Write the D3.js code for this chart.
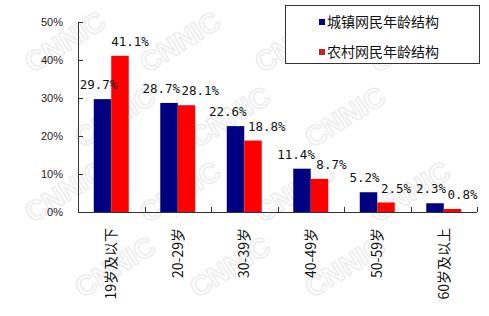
<!DOCTYPE html>
<meta charset="utf-8">
<script src="https://d3js.org/d3.v7.min.js"></script>
<html>
  <head>
    <style>
    body { margin: 0; background-color: #ffffff; }
    </style>
  </head>
  <body>
    <div id="my_dataviz"></div>
  </body>
</html>

<script>

// data
var categories = ["19岁及以下", "20-29岁", "30-39岁", "40-49岁", "50-59岁", "60岁及以上"];
var seriesNames = ["城镇网民年龄结构", "农村网民年龄结构"];
var urbanValues = [29.7, 28.7, 22.6, 11.4, 5.2, 2.3];
var ruralValues = [41.1, 28.1, 18.8, 8.7, 2.5, 0.8];
var yTicks = [0, 10, 20, 30, 40, 50];

var colors = ["#000080", "#ff0000"];
var legendColors = ["#000080", "#c82020"];

var width = 489, height = 316;
var svg = d3.select("#my_dataviz")
  .append("svg")
    .attr("width", width)
    .attr("height", height);

// very faint watermark, kept inside the picture
var wm = svg.append("g");
for (var r = 0; r < 4; r++) {
  for (var c = 0; c < 4; c++) {
    var wx = 70 + c * 115 + (r % 2) * 50, wy = 50 + r * 75;
    if (wx > 440) continue;
    wm.append("text")
      .attr("transform", "translate(" + wx + "," + wy + ") rotate(-32)")
      .attr("text-anchor", "middle")
      .style("font-family", "Liberation Sans, Arial")
      .style("font-weight", "bold")
      .style("font-size", "28px")
      .style("fill", "none")
      .style("stroke", "#ededed")
      .style("stroke-width", 1.5)
      .text("CNNIC");
  }
}

var plot = {left: 78, right: 477, top: 22, bottom: 212};

var x0 = d3.scaleBand()
  .domain(categories)
  .range([plot.left, plot.right])
  .paddingInner(0.474)
  .paddingOuter(0.237);

var x1 = d3.scaleBand()
  .domain([0, 1])
  .range([0, x0.bandwidth()]);

var y = d3.scaleLinear()
  .domain([0, 50])
  .range([plot.bottom, plot.top]);

// Y axis, ticks pointing inward
var yAxis = svg.append("g")
  .attr("transform", "translate(" + plot.left + ",0)")
  .call(d3.axisRight(y).tickValues(yTicks).tickSize(5).tickFormat(""));
yAxis.select(".domain").attr("d", "M0.5," + plot.top + "V" + plot.bottom).style("stroke", "#333");
yAxis.selectAll(".tick line").style("stroke", "#333");

svg.append("g").selectAll("text")
  .data(yTicks)
  .enter()
  .append("text")
    .attr("x", 63)
    .attr("y", function(d) { return y(d); })
    .attr("dy", "0.35em")
    .attr("text-anchor", "end")
    .style("font-family", "Liberation Sans, Arial")
    .style("font-size", "11px")
    .style("fill", "#222")
    .text(function(d) { return d + "%"; });

// X axis with inward ticks at category boundaries
var bounds = categories.map(function(d) { return x0(d) - x0.step() * x0.paddingOuter(); });
bounds.push(plot.right);
svg.append("line")
  .attr("x1", plot.left).attr("x2", plot.right)
  .attr("y1", plot.bottom + 0.5).attr("y2", plot.bottom + 0.5)
  .style("stroke", "#333");
svg.append("g").selectAll("line")
  .data(bounds.slice(1))
  .enter()
  .append("line")
    .attr("x1", function(d) { return Math.round(d) + 0.5; })
    .attr("x2", function(d) { return Math.round(d) + 0.5; })
    .attr("y1", plot.bottom)
    .attr("y2", plot.bottom - 5)
    .style("stroke", "#333");

// bars
var rows = categories.map(function(c, i) { return {cat: c, vals: [urbanValues[i], ruralValues[i]]}; });
var groups = svg.append("g").selectAll("g")
  .data(rows)
  .enter()
  .append("g")
    .attr("transform", function(d) { return "translate(" + x0(d.cat) + ",0)"; });

groups.selectAll("rect")
  .data(function(d) { return d.vals.map(function(v, s) { return {v: v, s: s}; }); })
  .enter()
  .append("rect")
    .attr("x", function(d) { return x1(d.s); })
    .attr("y", function(d) { return y(d.v); })
    .attr("width", x1.bandwidth())
    .attr("height", function(d) { return plot.bottom - y(d.v); })
    .style("fill", function(d) { return colors[d.s]; });

// value labels: urban a bit left, rural a bit right, pushed apart if they collide
groups.each(function(d) {
  var g = d3.select(this);
  var labels = d.vals.map(function(v, s) {
    return g.append("text")
      .attr("x", x1(s) + x1.bandwidth() / 2 + (s === 0 ? -4 : 10))
      .attr("y", y(v) - 10)
      .attr("text-anchor", "middle")
      .style("font-family", "DejaVu Sans Mono, monospace")
      .style("font-size", "12.5px")
      .style("fill", "#111")
      .text(v.toFixed(1) + "%");
  });
  var a = labels[0].node().getBBox(), b = labels[1].node().getBBox();
  var vOverlap = a.y < b.y + b.height && b.y < a.y + a.height;
  var over = a.x + a.width + 1 - b.x;
  if (vOverlap && over > 0) {
    labels[0].attr("x", +labels[0].attr("x") - over / 2);
    labels[1].attr("x", +labels[1].attr("x") + over / 2);
  }
});

// category labels, rotated
svg.append("g").selectAll("text")
  .data(categories)
  .enter()
  .append("text")
    .attr("transform", function(d) { return "translate(" + (x0(d) + x0.bandwidth() / 2) + ",228) rotate(-90)"; })
    .attr("text-anchor", "end")
    .attr("dy", "0.35em")
    .style("font-family", "Noto Sans CJK SC, sans-serif")
    .style("font-size", "14px")
    .style("fill", "#111")
    .text(function(d) { return d; });

// legend
var legend = svg.append("g");
legend.append("rect")
  .attr("x", 285.5).attr("y", 5.5)
  .attr("width", 194).attr("height", 58)
  .style("fill", "#fff")
  .style("stroke", "#333");

var items = legend.selectAll("g")
  .data(seriesNames)
  .enter()
  .append("g")
    .attr("transform", function(d, i) { return "translate(319," + (22 + i * 30) + ")"; });
items.append("rect")
  .attr("x", 0).attr("y", -3)
  .attr("width", 6).attr("height", 6)
  .style("fill", function(d, i) { return legendColors[i]; });
items.append("text")
  .attr("x", 8)
  .attr("dy", "0.35em")
  .style("font-family", "Noto Sans CJK SC, sans-serif")
  .style("font-size", "14px")
  .style("fill", "#111")
  .text(function(d) { return d; });

</script>
